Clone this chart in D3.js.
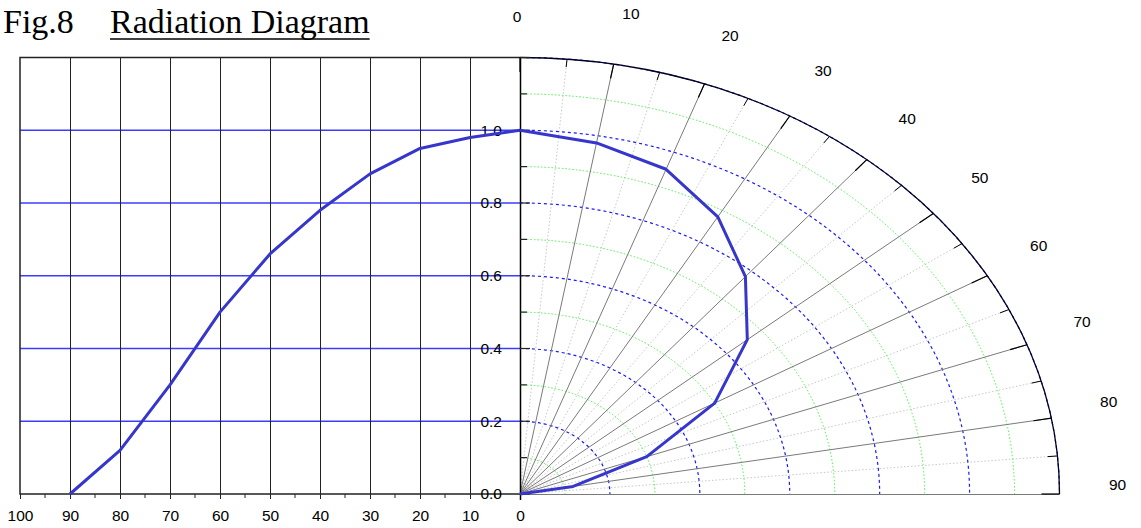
<!DOCTYPE html>
<html>
<head>
<meta charset="utf-8">
<script src="https://cdn.jsdelivr.net/npm/d3@7"></script>
<style>
  html, body { margin: 0; padding: 0; background: #fff; }
  svg { display: block; }
  text { font-family: "Liberation Sans", Arial, sans-serif; }
</style>
</head>
<body>
<script>
// ---- data ----
const angles = [90, 80, 70, 60, 50, 40, 30, 20, 10, 0];
const values = [0.0, 0.12, 0.30, 0.50, 0.66, 0.78, 0.88, 0.95, 0.98, 1.00];
const xTicks = [100, 90, 80, 70, 60, 50, 40, 30, 20, 10, 0];
const yTicks = [0.0, 0.2, 0.4, 0.6, 0.8, 1.0];
const angleLabels = [0, 10, 20, 30, 40, 50, 60, 70, 80, 90];
const titleFig = "Fig.8";
const titleMain = "Radiation Diagram";

const W = 1141, H = 528;
const svg = d3.select("body").append("svg").attr("width", W).attr("height", H);

// ---- scales ----
const cx = 520, cy = 494;
const x = d3.scaleLinear().domain([100, 0]).range([20, cx]);
const y = d3.scaleLinear().domain([0, 1.2]).range([cy, 57.5]);
const rX = d3.scaleLinear().domain([0, 1.2]).range([0, 539.5]);
const rY = d3.scaleLinear().domain([0, 1.2]).range([0, cy - 57.5]);
const rad = d => d * Math.PI / 180;
const px = (a, r) => cx + rX(r) * Math.sin(rad(a));
const py = (a, r) => cy - rY(r) * Math.cos(rad(a));

const curveColor = "#3636cc";
const labelFont = "'Liberation Sans', Arial, sans-serif";
const labelSize = "15.5px";

// ---- title ----
svg.append("text").attr("x", 3).attr("y", 33)
  .style("font-family", "'Liberation Serif', 'Times New Roman', serif")
  .style("font-size", "34px").text(titleFig);
const tm = svg.append("text").attr("x", 110).attr("y", 33)
  .style("font-family", "'Liberation Serif', 'Times New Roman', serif")
  .style("font-size", "34px").text(titleMain);
const tmLen = tm.node().getComputedTextLength();
svg.append("line").attr("x1", 110).attr("x2", 110 + tmLen).attr("y1", 39).attr("y2", 39)
  .attr("stroke", "#000").attr("stroke-width", 1.5);

// ---- left chart grid ----
const left = svg.append("g");
left.selectAll("line.h").data(yTicks.filter(v => v > 0)).join("line")
  .attr("x1", x(100)).attr("x2", x(0))
  .attr("y1", d => y(d)).attr("y2", d => y(d))
  .attr("stroke", "#3c3cff").attr("stroke-width", 1.3);
left.selectAll("line.v").data(xTicks.filter(v => v < 100 && v > 0)).join("line")
  .attr("x1", d => Math.round(x(d)) + 0.5).attr("x2", d => Math.round(x(d)) + 0.5)
  .attr("y1", y(1.2)).attr("y2", y(0))
  .attr("stroke", "#222").attr("stroke-width", 1);
left.append("path")
  .attr("d", `M${x(0)},${y(1.2)}H${x(100)}V${y(0)}H${x(0)}`)
  .attr("fill", "none").attr("stroke", "#222").attr("stroke-width", 1.5);

// bottom axis
const xAxis = d3.axisBottom(x).tickValues(xTicks).tickSize(5).tickPadding(11).tickFormat(d3.format("d"));
const gx = svg.append("g").attr("transform", `translate(0,${cy})`).call(xAxis);
gx.select(".domain").remove();
gx.selectAll("text").style("font-size", labelSize).style("font-family", labelFont).attr("fill", "#000");
gx.selectAll("line").attr("stroke", "#222");
const xMinor = d3.range(95, 0, -10);
svg.append("g").selectAll("line").data(xMinor).join("line")
  .attr("x1", d => x(d)).attr("x2", d => x(d)).attr("y1", cy).attr("y2", cy + 4)
  .attr("stroke", "#222");

// y-axis labels
const yAxis = d3.axisLeft(y).tickValues(yTicks).tickSize(0).tickPadding(18).tickFormat(d3.format(".1f"));
const gy = svg.append("g").attr("transform", `translate(${cx},0)`).call(yAxis);
gy.select(".domain").remove();
gy.selectAll("text").style("font-size", labelSize).style("font-family", labelFont).attr("fill", "#000");

// left curve
const lineL = d3.line().x((d, i) => x(angles[i])).y(d => y(d));
svg.append("path").datum(values).attr("d", lineL)
  .attr("fill", "none").attr("stroke", curveColor).attr("stroke-width", 3)
  .attr("stroke-linejoin", "round");

// ---- polar chart ----
const polar = svg.append("g");
const arcPath = r => `M${px(0, r)},${py(0, r)}A${rX(r)},${rY(r)} 0 0 1 ${px(90, r)},${py(90, r)}`;

const minorAng = d3.range(5, 90, 10);
const majorAng = d3.range(10, 90, 10);
polar.selectAll("line.rm").data(minorAng).join("line")
  .attr("x1", cx).attr("y1", cy).attr("x2", d => px(d, 1.2)).attr("y2", d => py(d, 1.2))
  .attr("stroke", "#c8c8c8").attr("stroke-width", 1).attr("stroke-dasharray", "1.5,2");
const greenRings = [0.1, 0.3, 0.5, 0.7, 0.9, 1.1];
polar.selectAll("path.g").data(greenRings).join("path")
  .attr("d", arcPath).attr("fill", "none")
  .attr("stroke", "#4cf04c").attr("stroke-width", 1).attr("stroke-dasharray", "1.5,2");
const blueRings = [0.2, 0.4, 0.6, 0.8, 1.0, 1.2];
polar.selectAll("path.b").data(blueRings).join("path")
  .attr("d", arcPath).attr("fill", "none")
  .attr("stroke", "#1a1aff").attr("stroke-width", 1.2).attr("stroke-dasharray", "3,3");
polar.selectAll("line.rM").data(majorAng).join("line")
  .attr("x1", cx).attr("y1", cy).attr("x2", d => px(d, 1.2)).attr("y2", d => py(d, 1.2))
  .attr("stroke", "#7a7a7a").attr("stroke-width", 1);
polar.append("line").attr("x1", cx).attr("y1", cy + 0.5).attr("x2", px(90, 1.2)).attr("y2", cy + 0.5)
  .attr("stroke", "#7a7a7a").attr("stroke-width", 1);
polar.append("path").attr("d", arcPath(1.2)).attr("fill", "none")
  .attr("stroke", "#000022").attr("stroke-width", 1.3);
const tickAngMajor = d3.range(0, 91, 10);
const tickAngMinor = d3.range(5, 90, 10);
polar.selectAll("line.tM").data(tickAngMajor).join("line")
  .attr("x1", d => px(d, 1.2)).attr("y1", d => py(d, 1.2))
  .attr("x2", d => px(d, 1.16)).attr("y2", d => py(d, 1.16))
  .attr("stroke", "#000").attr("stroke-width", 1.2);
polar.selectAll("line.tm").data(tickAngMinor).join("line")
  .attr("x1", d => px(d, 1.2)).attr("y1", d => py(d, 1.2))
  .attr("x2", d => px(d, 1.178)).attr("y2", d => py(d, 1.178))
  .attr("stroke", "#000").attr("stroke-width", 1);
polar.append("line").attr("x1", cx + 0.5).attr("x2", cx + 0.5).attr("y1", y(1.2)).attr("y2", cy + 6)
  .attr("stroke", "#000").attr("stroke-width", 1.5);
const yMajorT = d3.range(0, 1.21, 0.2);
const yMinorT = d3.range(0.1, 1.2, 0.2);
polar.selectAll("line.ym").data(yMajorT).join("line")
  .attr("x1", cx).attr("x2", cx + 10).attr("y1", d => y(d)).attr("y2", d => y(d))
  .attr("stroke", "#222").attr("stroke-width", 1.2);
polar.selectAll("line.yn").data(yMinorT).join("line")
  .attr("x1", cx).attr("x2", cx + 7).attr("y1", d => y(d)).attr("y2", d => y(d))
  .attr("stroke", "#222").attr("stroke-width", 1.2);

const lineP = d3.line().x((d, i) => px(angles[i], d)).y((d, i) => py(angles[i], d));
polar.append("path").datum(values).attr("d", lineP)
  .attr("fill", "none").attr("stroke", curveColor).attr("stroke-width", 3)
  .attr("stroke-linejoin", "round");

// angle labels
const lx = d3.scaleLinear().domain([0, 1]).range([0, 589]);
const ly = d3.scaleLinear().domain([0, 1]).range([0, 478]);
svg.append("g").selectAll("text").data(angleLabels).join("text")
  .attr("x", d => d === 0 ? cx - 3 : cx + lx(Math.sin(rad(d))))
  .attr("y", d => d === 0 ? 22 : cy - 4 - ly(Math.cos(rad(d))))
  .attr("text-anchor", d => d === 0 ? "middle" : "start")
  .style("font-size", labelSize)
  .text(d => d);
</script>
</body>
</html>
